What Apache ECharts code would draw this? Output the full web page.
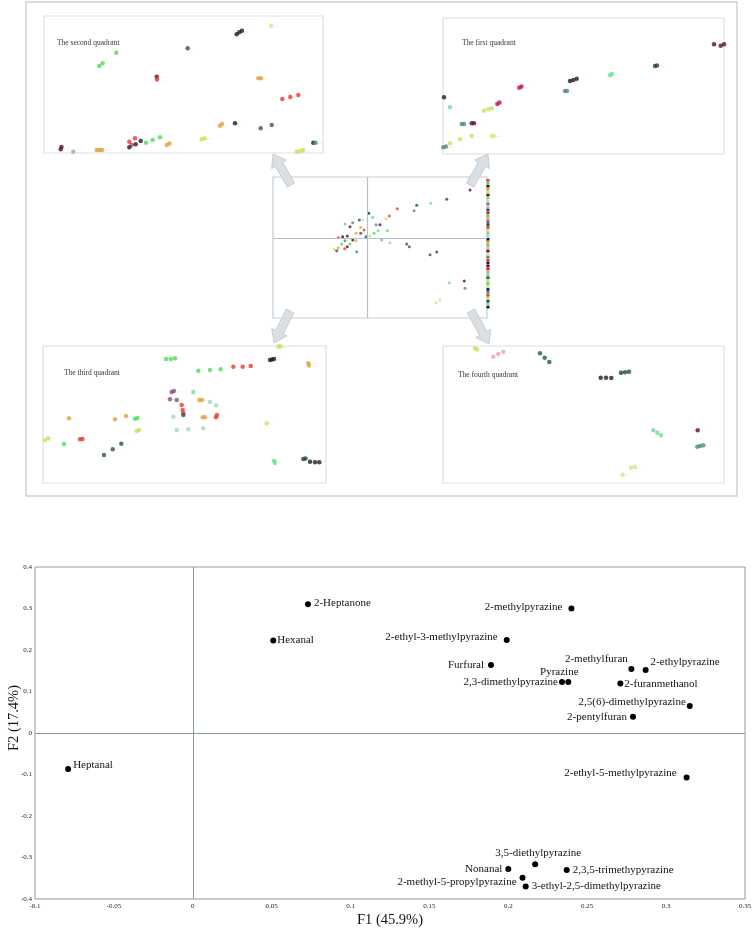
<!DOCTYPE html>
<html><head><meta charset="utf-8">
<script src="https://cdn.jsdelivr.net/npm/echarts@6/dist/echarts.min.js"></script>
<style>html,body{margin:0;padding:0;background:#fff}#c{width:756px;height:933px}</style>
</head><body><div id="c"></div>
<script>
// ===== Main PCA loading plot data =====
const compounds = ['2-Heptanone','Hexanal','Heptanal','2-methylpyrazine','2-ethyl-3-methylpyrazine','Furfural',
  '2,3-dimethylpyrazine','Pyrazine','2-methylfuran','2-ethylpyrazine','2-furanmethanol','2,5(6)-dimethylpyrazine',
  '2-pentylfuran','2-ethyl-5-methylpyrazine','3,5-diethylpyrazine','Nonanal','2,3,5-trimethypyrazine',
  '2-methyl-5-propylpyrazine','3-ethyl-2,5-dimethylpyrazine'];
const f1Values = [0.073,0.051,-0.079,0.240,0.199,0.189,0.234,0.238,0.278,0.287,0.271,0.315,0.279,0.313,0.217,0.200,0.237,0.209,0.211];
const f2Values = [0.310,0.223,-0.087,0.300,0.224,0.164,0.123,0.123,0.154,0.152,0.119,0.065,0.039,-0.107,-0.316,-0.328,-0.330,-0.349,-0.370];
const f1Axis = {min:-0.1, max:0.35, interval:0.05, name:'F1 (45.9%)'};
const f2Axis = {min:-0.4, max:0.4, interval:0.1, name:'F2 (17.4%)'};

// ===== Quadrant detail panels (panel-relative units) =====
const q2Points = [
 [192.7,18.3,'k'],[195.3,16.3,'k'],[198,14.7,'k'],[227,9.7,'y'],[143.7,32.3,'dt'],[72.3,36.7,'g'],
 [55.3,50,'g'],[58.7,47.3,'g'],[112.7,60.7,'m'],[113,63.5,'r'],[214.3,62.3,'o'],[217,62.3,'o'],
 [238.3,83,'r'],[246.3,81,'r'],[254.3,79,'r'],[176,109.7,'o'],[178,108,'o'],[191,107.3,'k'],
 [216.7,112.3,'br'],[227.7,109,'br'],[16.7,133.3,'m'],[17.5,131,'m'],[29.3,135.7,'gy'],
 [52.7,134,'o'],[55.5,134,'o'],[58,134,'o'],[85.3,125.7,'r'],[91,122.3,'r'],[87.7,129,'r'],
 [85.3,131.3,'k'],[91.7,128.3,'k'],[96.7,125,'k'],[102,126.7,'g'],[108.7,124,'g'],[116,121.3,'g'],
 [122.7,129,'o'],[125.5,127.5,'o'],[157.7,123.3,'yg'],[160.5,122.3,'yg'],[269.3,126.7,'k'],[271.5,126.7,'t'],
 [252.7,135.7,'yg'],[256,135,'yg'],[259,134,'yg']
];
const q1Points = [
 [271,26.3,'m'],[277.7,27.7,'m'],[281,26.3,'m'],[212,48,'dg'],[214,47.5,'dg'],[167,57.3,'lg'],[169,56,'lg'],
 [127,63,'k'],[130.3,62,'k'],[133.7,60.7,'k'],[122,73,'t'],[124,73,'t'],[76.3,69.7,'c'],[78.5,68.5,'c'],
 [1,79.3,'k'],[7,89.3,'lg'],[54.3,86,'c'],[56.5,84.5,'c'],[41,92.7,'yg'],[45.3,91.3,'yg'],[48.7,90.3,'yg'],
 [18.7,106,'t'],[21,106,'t'],[28.7,105.3,'m'],[31,105.3,'m'],[7,125.3,'yg'],[17,121.3,'yg'],[28.7,118,'yg'],
 [48.7,118,'y'],[51,118,'y'],[0.3,129.3,'t'],[3,128.5,'t']
];
const q3Points = [
 [123,13,'g'],[127.7,13,'g'],[132,12.3,'g'],[235.3,0.5,'yg'],[237.5,0.5,'yg'],[227,14,'k'],[229,13.5,'k'],[231,13,'k'],
 [265.3,17.3,'o'],[266,19.5,'o'],[155.3,24.7,'g'],[167,24,'g'],[177.7,23.3,'g'],[190.3,20.7,'r'],[199.7,20.7,'r'],[207.7,20,'r'],
 [128.7,46,'pu'],[131,45,'pu'],[150.3,46,'lg'],[127,53.3,'pu'],[133.7,54,'pu'],[156.3,54,'o'],[159,54,'o'],
 [167,56,'lt'],[173,59.3,'lt'],[138.7,59,'r'],[139.7,64,'r'],[140.3,67.3,'r'],[140.3,69,'dt'],[130.3,70.7,'lt'],
 [159.7,71.3,'o'],[162,71.3,'o'],[173,71.3,'r'],[174,69,'r'],[26,72.3,'o'],[72,73.3,'o'],[83,70,'o'],
 [92,72.7,'g'],[94.5,72,'g'],[133.7,84,'lt'],[145.3,83.3,'lt'],[160.3,82.3,'lt'],[223.7,77.3,'yg'],
 [93.7,85,'yg'],[96,84,'yg'],[2,94,'yg'],[5.3,92.3,'yg'],[37,93.3,'r'],[39.5,93,'r'],[21,98,'g'],
 [78.3,97.7,'dt'],[69.7,103.3,'dt'],[61,109,'dt'],[231,114.7,'lg'],[232,117,'lg'],
 [260.3,113,'dg'],[262.5,112.5,'dg'],[267,115.7,'k'],[272,116.3,'k'],[276.3,116.3,'k']
];
const q4Points = [
 [32,2.3,'yg'],[34,3.5,'yg'],[50.3,10.7,'p'],[55.3,8,'p'],[60.3,5.7,'p'],[97,7.3,'dt'],[101.7,11.7,'dt'],[106.3,16,'dt'],
 [157.7,31.7,'k'],[163,31.7,'k'],[168.3,32,'k'],[178,26.7,'dg'],[182,26.3,'dg'],[186,25.7,'dg'],
 [210.3,84.3,'lg'],[214.3,86.7,'lg'],[218,89.3,'lg'],[254.7,84.3,'m'],[254.3,100.7,'t'],[257,100,'t'],[260.3,99.3,'t'],
 [188,121.7,'y'],[192,121,'y'],[179.7,128.7,'y']
];
const overviewPoints = [
 [197,13,'m'],[173.7,22.3,'dg'],[157.7,26.3,'lg'],[143.7,28.3,'dg'],[141,33.7,'t'],[124.3,31.7,'r'],[116.3,39,'r'],
 [113,41.7,'yg'],[107,47.7,'m'],[103,47.7,'t'],[95.7,36.3,'k'],[99.7,40.3,'g'],[86.3,43,'dt'],[79.7,45.7,'t'],
 [72,47,'g'],[77,49.7,'m'],[89.7,43,'y'],[87.7,50.3,'o'],[91,53,'r'],[83,56.3,'o'],[87.7,56.3,'dt'],[114.3,53.7,'g'],
 [105,53.7,'lg'],[101,56.3,'g'],[97,59,'yg'],[93,59.7,'dt'],[69.7,59.7,'k'],[65.3,60.7,'r'],[74.3,59,'m'],
 [79.7,63,'k'],[83,63.7,'o'],[72,63.7,'t'],[68.7,67,'g'],[77,67,'g'],[74.3,69.7,'m'],[71.7,71.7,'r'],[65.3,70.7,'o'],
 [61,72.3,'yg'],[63.7,73.7,'dt'],[83.7,74.7,'t'],[108.7,63,'g'],[117,65.7,'p'],[133.7,67,'dt'],[136.3,69.7,'dt'],
 [157,77.7,'dt'],[163.7,75,'dg'],[176.3,105.7,'lg'],[191.3,104,'m'],[192,111.3,'t'],[167,123,'y'],[163,125.7,'y']
];
const panelTitles = ['The second quadrant','The first quadrant','The third quadrant','The fourth quadrant'];

// ===== styles =====
const palette = {k:'#1b1b28', y:'#e2e27e', dt:'#2d5656', g:'#4fdc5a', m:'#5c0f30', o:'#e0a23c', r:'#e63a2e',
  br:'#6a4a3a', gy:'#a8a8a8', yg:'#c4e45a', lg:'#6ee09a', t:'#4a8c86', c:'#c4143e', p:'#e2a4c6',
  pu:'#8a4f7a', lt:'#a4d6c6', dg:'#1f4a3a'};
const stripColors = ['#e63a2e','#4fdc5a','#1b1b28','#e0a23c','#c4e45a','#5c0f30','#6ee09a','#e2e27e','#4a8c86','#e2a4c6',
  '#2d5656','#c4143e','#4fdc5a','#e0a23c','#8a4f7a','#1f4a3a','#e63a2e','#c4e45a','#6ee09a','#a4d6c6','#1b1b28','#e0a23c',
  '#4fdc5a','#e2a4c6','#5c0f30','#e2e27e','#4a8c86','#e63a2e','#1b1b28','#5c0f30','#c4143e','#e0a23c','#6ee09a','#2d5656',
  '#c4e45a','#4fdc5a','#e2e27e','#1b1b28','#4a8c86','#e63a2e','#c4e45a','#1f4a3a','#6ee09a','#1b1b28'];
const serif = 'Liberation Serif';

const labelPlace = {
 '2-Heptanone':{position:'right',distance:3,offset:[0,-1]},
 'Hexanal':{position:'right',distance:1},
 'Heptanal':{position:'right',distance:2,offset:[0,-4]},
 '2-methylpyrazine':{position:'left',distance:6,offset:[0,-1]},
 '2-ethyl-3-methylpyrazine':{position:'left',distance:6,offset:[0,-3]},
 'Furfural':{position:'left',distance:4},
 '2,3-dimethylpyrazine':{position:'left',distance:1},
 'Pyrazine':{position:'top',distance:1,offset:[-9,0]},
 '2-methylfuran':{position:'top',distance:1,offset:[-35,0]},
 '2-ethylpyrazine':{position:'right',distance:2,offset:[0,-8]},
 '2-furanmethanol':{position:'right',distance:1},
 '2,5(6)-dimethylpyrazine':{position:'left',distance:1,offset:[0,-4]},
 '2-pentylfuran':{position:'left',distance:3},
 '2-ethyl-5-methylpyrazine':{position:'left',distance:7,offset:[0,-4]},
 '3,5-diethylpyrazine':{position:'top',distance:3,offset:[3,0]},
 'Nonanal':{position:'left',distance:3},
 '2,3,5-trimethypyrazine':{position:'right',distance:3},
 '2-methyl-5-propylpyrazine':{position:'left',distance:3,offset:[0,4]},
 '3-ethyl-2,5-dimethylpyrazine':{position:'right',distance:3}
};

// panel boxes: [left, top, width, height]
const panels = [
 {box:[44,16,279,137], pts:q2Points, title:[57,39]},
 {box:[443,18,281,136], pts:q1Points, title:[462,39]},
 {box:[273,177,214,141], pts:overviewPoints},
 {box:[43,346,283,137], pts:q3Points, title:[64,369]},
 {box:[443,346,281,137], pts:q4Points, title:[458,371]}
];

const grids = [], xAxes = [], yAxes = [], series = [];
// main chart grid (index 0)
grids.push({left:35, top:567, width:710, height:332, show:true, outerBoundsMode:'none', containLabel:false,
  borderColor:'#8a9ba5', borderWidth:1, backgroundColor:'transparent'});
xAxes.push({gridIndex:0, type:'value', min:f1Axis.min, max:f1Axis.max, interval:f1Axis.interval,
  name:f1Axis.name, nameLocation:'middle', nameGap:14, nameMoveOverlap:false,
  nameTextStyle:{fontFamily:serif, fontSize:14.5, color:'#111'},
  axisLine:{show:false}, axisTick:{show:false}, splitLine:{show:false},
  axisLabel:{fontFamily:serif, fontSize:7, color:'#222', margin:4}});
yAxes.push({gridIndex:0, type:'value', min:f2Axis.min, max:f2Axis.max, interval:f2Axis.interval,
  axisLine:{show:false}, axisTick:{show:false}, splitLine:{show:false},
  axisLabel:{fontFamily:serif, fontSize:7, color:'#222', margin:3}});
series.push({
  type:'scatter', xAxisIndex:0, yAxisIndex:0, symbolSize:6, clip:false,
  itemStyle:{color:'#000', opacity:1},
  data: compounds.map((n,i)=>{
    const lp = labelPlace[n] || {position:'right'};
    return {name:n, value:[f1Values[i], f2Values[i]],
      label:Object.assign({show:true, formatter:n, fontFamily:serif, fontSize:11, color:'#111'}, lp)};
  }),
  markLine:{silent:true, symbol:'none', animation:false,
    lineStyle:{color:'#8a9ba5', width:1, type:'solid'}, label:{show:false},
    data:[{xAxis:0},{yAxis:0}]}
});

panels.forEach((p,idx)=>{
  const gi = idx+1;
  const [l,t,w,h] = p.box;
  const isCenter = idx===2;
  grids.push({left:l, top:t, width:w, height:h, show:true, outerBoundsMode:'none', containLabel:false,
    borderColor: isCenter ? '#c2ced4' : '#dbe2e7', borderWidth:1.2, backgroundColor:'#fff'});
  xAxes.push({gridIndex:gi, type:'value', min:0, max:w, show:false});
  yAxes.push({gridIndex:gi, type:'value', min:0, max:h, inverse:true, show:false});
  const s = {
    type:'scatter', xAxisIndex:gi, yAxisIndex:gi, clip:false,
    symbolSize: isCenter ? 3 : 4.5,
    data: p.pts.map(d=>({value:[d[0],d[1]], itemStyle:{color:palette[d[2]]}})),
    label:{show:!isCenter, position:'right', distance:1, formatter:'\u2013\u2013', fontSize:4,
      color:'rgba(160,160,190,0.45)'}
  };
  if (isCenter) {
    s.markLine = {silent:true, symbol:'none', animation:false, label:{show:false},
      lineStyle:{color:'#b3c2c9', width:1.2, type:'solid'}, data:[{xAxis:94},{yAxis:61}]};
  }
  series.push(s);
});

// ===== decorative graphics =====
function arrow(x1,y1,x2,y2){
  const dx=x2-x1, dy=y2-y1, L=Math.hypot(dx,dy), ux=dx/L, uy=dy/L, nx=-uy, ny=ux;
  const w=4.2, hw=8.5, hl=12;
  const bx=x2-ux*hl, by=y2-uy*hl;
  return {type:'polygon', z:1,
    shape:{points:[[x1+nx*w,y1+ny*w],[bx+nx*w,by+ny*w],[bx+nx*hw,by+ny*hw],[x2,y2],
      [bx-nx*hw,by-ny*hw],[bx-nx*w,by-ny*w],[x1-nx*w,y1-ny*w]]},
    style:{fill:'#d9dfe2', stroke:'#bcc6cb', lineWidth:0.8}};
}
const graphics = [
  {type:'rect', z:0, shape:{x:26,y:2,width:711,height:494}, style:{fill:'none', stroke:'#c8d3d8', lineWidth:1.5}},
  arrow(291,185,273,154), arrow(470,185,488,154), arrow(290,311,274,343), arrow(471,311,489,344),
  {type:'text', z:10, x:14, y:718, rotation:Math.PI/2,
    style:{text:f2Axis.name, fontFamily:serif, fontSize:14.5, fill:'#111', align:'center', verticalAlign:'middle'}}
];
stripColors.forEach((c,i)=>{
  graphics.push({type:'rect', z:5, shape:{x:486.5, y:179+i*2.95, width:3, height:2.6}, style:{fill:c}});
});
panels.forEach((p,idx)=>{
  if (!p.title) return;
  const k = idx<2 ? idx : idx-1;
  graphics.push({type:'text', z:10, x:p.title[0], y:p.title[1],
    style:{text:panelTitles[k], fontFamily:serif, fontSize:7.5, fill:'#2b3a48'}});
});

const chart = echarts.init(document.getElementById('c'));
chart.setOption({
  animation:false,
  backgroundColor:'#fff',
  grid:grids, xAxis:xAxes, yAxis:yAxes, series:series, graphic:graphics
});
</script></body></html>
